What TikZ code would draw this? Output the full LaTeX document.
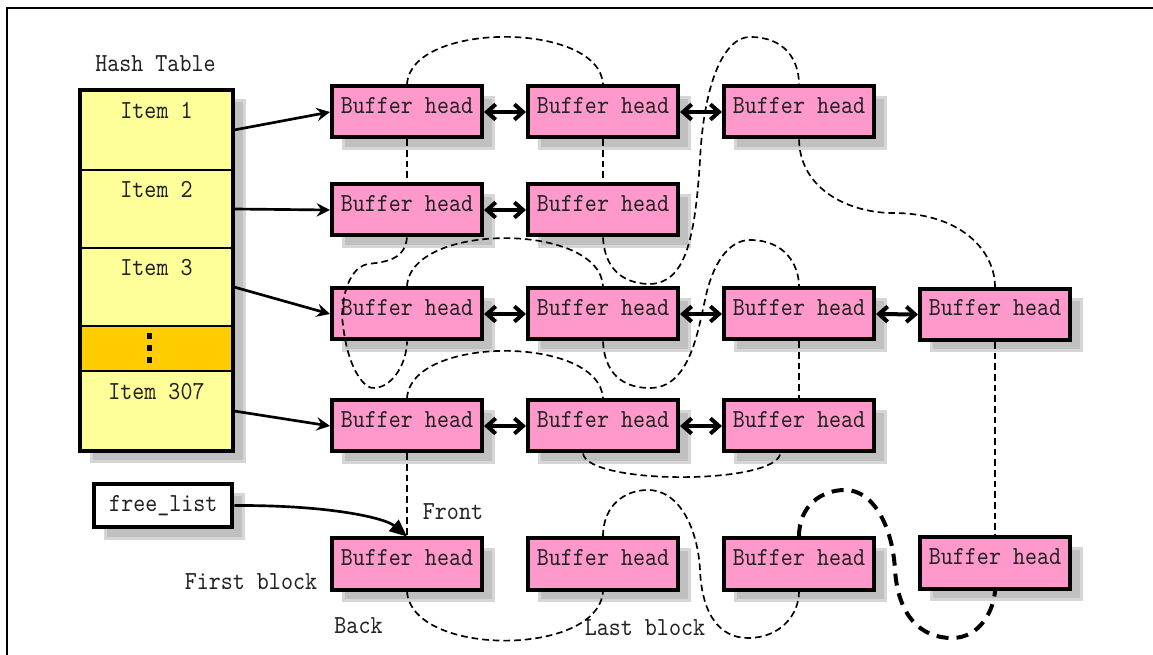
\documentclass[tikz,border=0pt]{standalone}
\usepackage{fontspec}
\newfontfamily\bhfont{lmmono10-regular}[Extension=.otf,FakeStretch=0.88]
\usetikzlibrary{arrows.meta,shadows,calc}
\definecolor{pinkbox}{HTML}{FF99CC}
\definecolor{yellowcell}{HTML}{FFFF99}
\definecolor{orangecell}{HTML}{FFCC00}
\definecolor{shfill}{HTML}{C0C0C0}
\definecolor{shline}{HTML}{D6D6D6}
\definecolor{txt}{HTML}{222222}
\begin{document}
\begin{tikzpicture}[x=0.75pt,y=-0.75pt,
  font=\bhfont\fontsize{19.5pt}{22pt}\selectfont, text=txt,
  bshadow/.style={drop shadow={shadow xshift=8.25pt,shadow yshift=-8.25pt,opacity=1,fill=shfill,draw=shline,line width=2.25pt}},
  buf/.style={draw=black,line width=3pt,fill=pinkbox,minimum width=112.5pt,minimum height=38.25pt,
    inner sep=0pt,text height=13pt,text depth=10.75pt,bshadow},
  cell/.style={draw=black,line width=1.5pt,fill=yellowcell,minimum width=114.75pt,inner sep=0pt,
    text height=13pt,text depth=29.5pt},
  harrow/.style={line width=2pt,-{Stealth[length=10pt,width=10pt,inset=3.5pt]}},
  dbl/.style={line width=3pt,{Straight Barb[length=6.5pt,width=11.5pt]}-{Straight Barb[length=6.5pt,width=11.5pt]}},
  dsh/.style={line width=1.25pt,dash pattern=on 5pt off 3pt},
  tdsh/.style={line width=3pt,dash pattern=on 9pt off 6pt},
  farrow/.style={line width=2pt,-{Triangle[length=13pt,width=11pt]}},
  lbl/.style={anchor=base,inner sep=0pt}]
\useasboundingbox (0,0) rectangle (1153,655);
\fill[white] (0,0) rectangle (1153,655);
\draw[line width=1.9pt] (7,655) -- (7,8) -- (1153,8);

% hash table
\node[lbl] (htitle) at (155.5,72) {Hash Table};
\node[fill=yellowcell,minimum width=114.75pt,minimum height=270.75pt,inner sep=0pt,outer sep=0pt,bshadow] (hash) at (156.5,270.5) {};
\node[cell,minimum height=60pt] (item1) at (156.5,130) {Item 1};
\node[cell,minimum height=58.5pt] (item2) at (156.5,209) {Item 2};
\node[cell,minimum height=58.5pt] (item3) at (156.5,287) {Item 3};
\node[cell,fill=orangecell,minimum height=33.75pt,text height=0pt,text depth=0pt] (dots) at (156.5,348.5) {};
\node[cell,minimum height=60pt] (item307) at (156.5,411) {Item 307};
\draw[line width=2.6pt] (hash.north west) rectangle (hash.south east);
\fill (146.5,333) rectangle (152,339);
\fill (146.5,345) rectangle (152,351);
\fill (146.5,357) rectangle (152,363);

% free list
\node[draw=black,line width=3pt,fill=white,minimum width=103.5pt,minimum height=32.7pt,inner sep=0pt,bshadow] (fl) at (163.3,505.5) {free\_list};

% buffer heads
\node[buf] (b11) at (407,112) {Buffer head};
\node[buf] (b12) at (603,112) {Buffer head};
\node[buf] (b13) at (799,112) {Buffer head};
\node[buf] (b21) at (407,210) {Buffer head};
\node[buf] (b22) at (603,210) {Buffer head};
\node[buf] (b31) at (407,314) {Buffer head};
\node[buf] (b32) at (603,314) {Buffer head};
\node[buf] (b33) at (799,314) {Buffer head};
\node[buf] (b34) at (995,314.5) {Buffer head};
\node[buf] (b41) at (407,426) {Buffer head};
\node[buf] (b42) at (603,426) {Buffer head};
\node[buf] (b43) at (799,426) {Buffer head};
\node[buf] (b51) at (407,564) {Buffer head};
\node[buf] (b52) at (603,564) {Buffer head};
\node[buf] (b53) at (799,564) {Buffer head};
\node[buf] (b54) at (995,563) {Buffer head};

% labels
\node[lbl] (front) at (453,520) {Front};
\node[lbl] (first) at (251,589) {First block};
\node[lbl] (back) at (358.5,633) {Back};
\node[lbl] (last) at (645,635) {Last block};

% hash arrows
\draw[harrow] (item1.east) -- (b11.west);
\draw[harrow] (item2.east) -- (b21.west);
\draw[harrow] (item3.east) -- (b31.west);
\draw[harrow] (item307.east) -- (b41.west);

% double arrows
\draw[dbl] (b11.east) -- (b12.west);
\draw[dbl] (b12.east) -- (b13.west);
\draw[dbl] (b21.east) -- (b22.west);
\draw[dbl] (b31.east) -- (b32.west);
\draw[dbl] (b32.east) -- (b33.west);
\draw[dbl] (b33.east) -- (b34.west);
\draw[dbl] (b41.east) -- (b42.west);
\draw[dbl] (b42.east) -- (b43.west);

% free list arrow
\draw[farrow] (fl.east) .. controls (330,505) and (385,518) .. (b51.north);

% dashed LRU links
\draw[dsh] (b11.north) .. controls (410,21) and (600,21) .. (b12.north);
\draw[dsh] (b11.south) -- (b21.north);
\draw[dsh] (b12.south) -- (b22.north);
\draw[dsh] (b22.south) .. controls (605,275) and (630,284) .. (650,284)
  .. controls (685,283) and (695,240) .. (700,160)
  .. controls (704,80) and (725,37) .. (750,37)
  .. controls (785,37) and (799,60) .. (b13.north);
\draw[dsh] (b13.south) .. controls (800,190) and (850,213) .. (893,213)
  .. controls (960,213) and (995,250) .. (b34.north);
\draw[dsh] (b21.south) .. controls (405,260) and (385,262) .. (368,264)
  .. controls (345,268) and (340,310) .. (343,325)
  .. controls (348,370) and (365,390) .. (375,388)
  .. controls (395,386) and (407,360) .. (b31.south);
\draw[dsh] (b31.north) .. controls (410,222) and (600,222) .. (b32.north);
\draw[dsh] (b32.south) .. controls (605,380) and (630,388) .. (650,388)
  .. controls (690,388) and (698,330) .. (705,300)
  .. controls (712,265) and (728,240) .. (750,240)
  .. controls (785,240) and (799,265) .. (b33.north);
\draw[dsh] (b33.south) -- (b43.north);
\draw[dsh] (b34.south) -- (b54.north);
\draw[dsh] (b41.north) .. controls (410,335) and (600,335) .. (b42.north);
\draw[dsh] ([xshift=-15pt]b42.south) .. controls (588,485) and (775,485) .. ([xshift=-14pt]b43.south);
\draw[dsh] (b41.south) -- (b51.north);
\draw[dsh] (b51.south) .. controls (412,657) and (598,657) .. (b52.south);
\draw[dsh] (b52.north) .. controls (603,505) and (625,490) .. (648,490)
  .. controls (680,490) and (698,530) .. (700,570)
  .. controls (702,615) and (720,638) .. (748,638)
  .. controls (780,638) and (799,615) .. (b53.south);
\draw[tdsh] (b53.north) .. controls (799,505) and (822,490) .. (845,490)
  .. controls (875,490) and (893,530) .. (895,570)
  .. controls (898,615) and (920,638) .. (952,638)
  .. controls (980,638) and (994,610) .. (b54.south);
\end{tikzpicture}
\end{document}
